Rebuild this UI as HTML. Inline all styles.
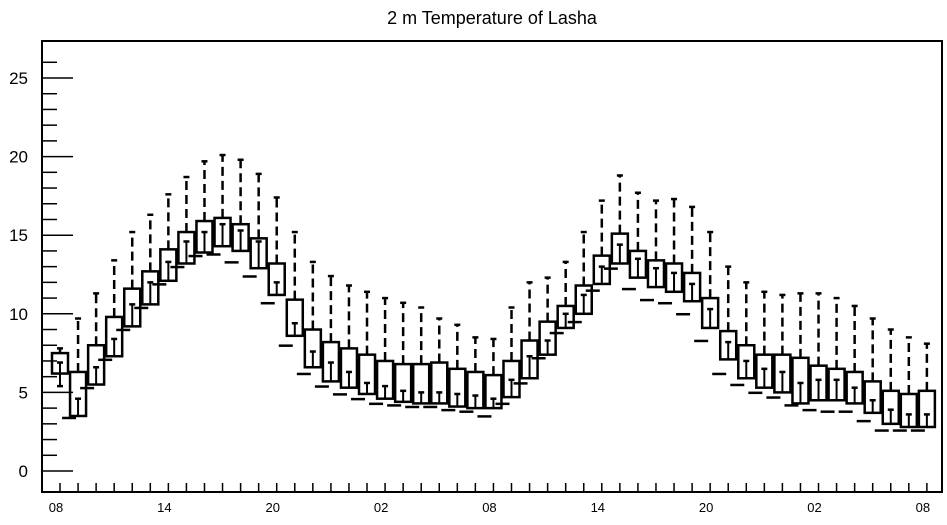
<!DOCTYPE html>
<html><head><meta charset="utf-8"><style>
html,body{margin:0;padding:0;background:#fff;}
svg text{font-family:"Liberation Sans",sans-serif;}
</style></head><body>
<svg id="chart" width="947" height="520" xmlns="http://www.w3.org/2000/svg">
<text x="492" y="24" font-size="18" text-anchor="middle">2 m Temperature of Lasha</text>
<g id="axes"></g>
<g id="boxes"></g>
<rect x="42" y="41" width="900" height="451" fill="none" stroke="#000" stroke-width="2"/>
</svg>
<script>
const hourLabels = ["08","14","20","02","08","14","20","02","08"];
const yTicks = [0,5,10,15,20,25];
const q1 = [6.2,3.5,5.5,7.3,9.2,10.6,12.1,13.2,13.9,14.3,14.0,12.9,11.2,8.6,6.6,5.7,5.3,4.9,4.6,4.4,4.3,4.3,4.1,4.0,4.0,4.7,5.9,7.4,9.1,10.0,11.9,13.2,12.3,11.7,11.4,10.8,9.1,7.1,5.9,5.3,5.0,4.3,4.5,4.5,4.3,3.7,3.0,2.8,2.8];
const q3 = [7.5,6.3,8.0,9.8,11.6,12.7,14.1,15.2,15.9,16.1,15.7,14.8,13.2,10.9,9.0,8.2,7.8,7.4,7.0,6.8,6.8,6.9,6.5,6.3,6.1,7.0,8.3,9.5,10.5,11.8,13.7,15.1,14.0,13.4,13.2,12.6,11.0,8.9,8.0,7.4,7.4,7.2,6.7,6.5,6.3,5.7,5.1,4.9,5.1];
const maxV = [7.8,9.7,11.3,13.4,15.2,16.3,17.6,18.7,19.7,20.1,19.8,18.9,17.4,15.2,13.3,12.4,11.8,11.4,11.0,10.7,10.4,9.7,9.3,8.5,8.4,10.4,12.0,12.3,13.3,15.2,17.2,18.8,17.7,17.2,17.3,16.8,15.2,13.0,12.0,11.4,11.2,11.3,11.3,11.0,10.5,9.7,9.0,8.5,8.1];
const medV = [6.9,4.6,6.6,8.4,10.6,12.0,13.3,14.6,15.2,15.7,15.3,14.6,12.0,9.4,7.6,6.9,6.3,5.6,5.4,5.1,5.0,5.0,4.9,4.8,4.6,5.8,7.3,8.3,10.0,11.2,13.0,14.4,13.5,12.9,12.6,11.9,10.3,8.2,7.0,6.5,6.3,5.6,5.8,5.8,5.3,4.5,3.9,3.6,3.6];
const minV = [5.4,3.5,5.4,7.2,9.1,10.5,12.0,13.1,13.8,13.9,13.4,12.5,10.8,8.1,6.3,5.5,5.0,4.7,4.4,4.3,4.2,4.2,4.0,3.9,3.6,4.4,5.7,7.3,8.9,9.6,11.6,13.0,11.7,11.0,10.8,10.1,8.4,6.3,5.6,5.1,4.8,4.3,4.0,3.9,3.9,3.3,2.7,2.7,2.7];

const NS="http://www.w3.org/2000/svg";
function yS(v){return 471-15.72*v;}
function xS(i){return 60+18.06*i;}
function mk(tag,attrs,parent){const e=document.createElementNS(NS,tag);for(const k in attrs)e.setAttribute(k,attrs[k]);parent.appendChild(e);return e;}
const axes=document.getElementById('axes');
const boxes=document.getElementById('boxes');
// y ticks
for(let v=0;v<=26;v++){
  const major=v%5===0;
  const t=mk('line',{x1:42,x2:major?73:57,y1:yS(v),y2:yS(v),stroke:'#000','stroke-width':1.5},axes);
  
  
}
yTicks.forEach(v=>{
  const t=mk('text',{x:28,y:yS(v)+6,'font-size':17,'text-anchor':'end'},axes);
  t.textContent=v;
  
  
});
// x ticks
for(let i=0;i<q1.length;i++){
  const t=mk('line',{x1:xS(i),x2:xS(i),y1:492,y2:483,stroke:'#000','stroke-width':1.5},axes);
  
  
}
hourLabels.forEach((l,k)=>{
  const t=mk('text',{x:xS(k*6)-4,y:512,'font-size':13,'text-anchor':'middle'},axes);
  t.textContent=l;
  
  
});
// boxes
for(let i=0;i<q1.length;i++){
  const g=mk('g',{},boxes);
  
  
  const x=xS(i), w=16;
  mk('line',{x1:x,x2:x,y1:yS(q3[i]),y2:yS(maxV[i]),stroke:'#000','stroke-width':2.5,'stroke-dasharray':i===0?'none':'9,5'},g);
  mk('line',{x1:x-3,x2:x+3,y1:yS(maxV[i]),y2:yS(maxV[i]),stroke:'#000','stroke-width':2.5},g);
  mk('rect',{x:x-w/2,y:yS(q3[i]),width:w,height:yS(q1[i])-yS(q3[i]),fill:'none',stroke:'#000','stroke-width':2.5},g);
  mk('line',{x1:x,x2:x,y1:yS(q1[i]),y2:yS(medV[i]),stroke:'#000','stroke-width':2},g);
  mk('line',{x1:x-3,x2:x+3,y1:yS(medV[i]),y2:yS(medV[i]),stroke:'#000','stroke-width':2.5},g);
  if(i===0){
    mk('line',{x1:x,x2:x,y1:yS(q1[i]),y2:yS(minV[i]),stroke:'#000','stroke-width':2},g);
    mk('line',{x1:x-3,x2:x+3,y1:yS(minV[i]),y2:yS(minV[i]),stroke:'#000','stroke-width':2.5},g);
  } else {
    mk('line',{x1:x-16,x2:x-2,y1:yS(minV[i])+2,y2:yS(minV[i])+2,stroke:'#000','stroke-width':2.5},g);
  }
}
</script>
</body></html>
